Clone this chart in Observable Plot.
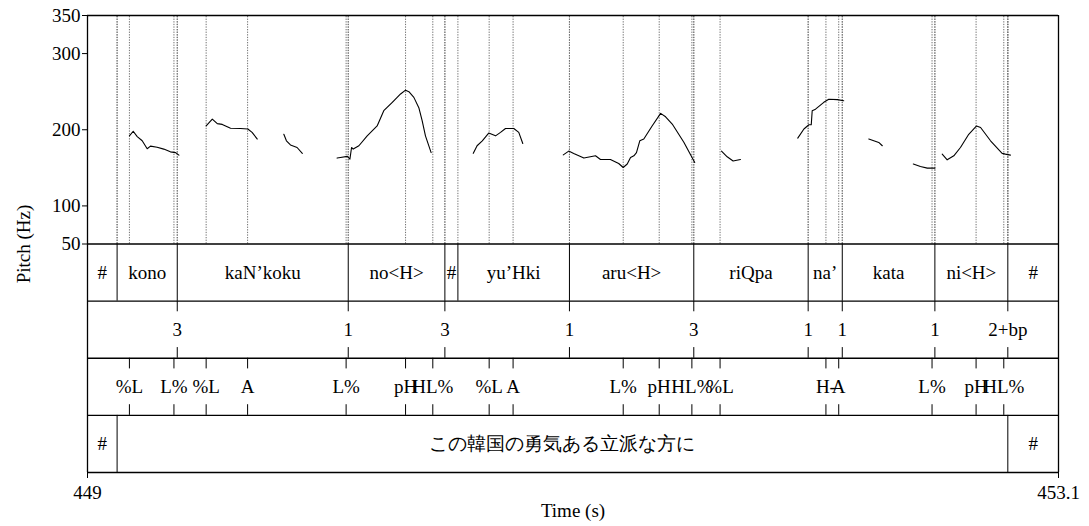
<!DOCTYPE html>
<html><head><meta charset="utf-8">
<script src="https://cdn.jsdelivr.net/npm/d3@7"></script>
<script src="https://cdn.jsdelivr.net/npm/@observablehq/plot@0.6"></script>
<style>body{margin:0;background:#fff}</style>
</head><body><div id="chart"></div>
<script>
// ---- data ----
const xDomain = [449, 453.1];
const xTicks = [449, 453.1];
const xTickLabels = ["449", "453.1"];
const yTicks = [50, 100, 200, 300, 350];

const words = ["#", "kono", "kaN\u2019koku", "no<H>", "#", "yu\u2019Hki", "aru<H>", "riQpa", "na\u2019", "kata", "ni<H>", "#"];
const wordBounds = [449, 449.125, 449.379, 450.101, 450.509, 450.564, 451.035, 451.560, 452.043, 452.187, 452.578, 452.886, 453.1];

const breakTimes = [449.379, 450.101, 450.509, 451.035, 451.560, 452.043, 452.187, 452.578, 452.886];
const breakLabels = ["3", "1", "3", "1", "3", "1", "1", "1", "2+bp"];

const toneTimes = [449.177, 449.365, 449.501, 449.676, 450.092, 450.343, 450.458, 450.696, 450.797, 451.262, 451.414, 451.552, 451.671, 452.118, 452.172, 452.566, 452.752, 452.869];
const toneLabels = ["%L", "L%", "%L", "A", "L%", "pH", "HL%", "%L", "A", "L%", "pH", "HL%", "%L", "H-", "A", "L%", "pH", "HL%"];

const sentences = ["#", "この韓国の勇気ある立派な方に", "#"];
const sentBounds = [449, 449.125, 452.886, 453.1];

const pitchSegment = [
  1,1,1,1,1,1,1,1,1,1,1,
  2,2,2,2,2,2,2,2,2,
  3,3,3,3,3,
  4,4,4,4,4,4,4,4,4,4,4,4,4,4,4,4,4,4,4,
  5,5,5,5,5,5,5,5,5,5,
  6,6,6,6,6,6,6,6,6,6,6,6,6,6,6,6,6,6,6,6,6,
  7,7,7,7,
  8,8,8,8,8,8,8,8,8,8,
  9,9,9,9,
  10,10,10,10,
  11,11,11,11,11,11,11,11,11,11,11
];
const pitchTime = [
  449.177, 449.193, 449.210, 449.231, 449.252, 449.266, 449.294, 449.322, 449.350, 449.372, 449.386,
  449.501, 449.527, 449.548, 449.569, 449.604, 449.646, 449.677, 449.695, 449.717,
  449.829, 449.840, 449.857, 449.885, 449.907,
  450.054, 450.068, 450.097, 450.108, 450.115, 450.122, 450.146, 450.181, 450.223, 450.251, 450.287, 450.322, 450.343, 450.357, 450.378, 450.399, 450.413, 450.427, 450.451,
  450.629, 450.645, 450.667, 450.694, 450.723, 450.744, 450.765, 450.800, 450.821, 450.838,
  451.009, 451.032, 451.053, 451.096, 451.145, 451.166, 451.208, 451.243, 451.262, 451.279, 451.293, 451.307, 451.318, 451.332, 451.349, 451.384, 451.420, 451.441, 451.469, 451.518, 451.564,
  451.677, 451.701, 451.726, 451.757,
  451.999, 452.025, 452.046, 452.056, 452.060, 452.074, 452.109, 452.130, 452.166, 452.193,
  452.299, 452.320, 452.341, 452.356,
  452.487, 452.517, 452.546, 452.578,
  452.609, 452.630, 452.658, 452.686, 452.721, 452.754, 452.771, 452.813, 452.862, 452.876, 452.897
];
const pitchHz = [
  192, 198, 191, 185.5, 175, 178.5, 177, 174.6, 171, 170, 166.7,
  205, 214, 208, 207, 202, 201.7, 201, 196.5, 187.8,
  194, 185.5, 180, 176.7, 169,
  162.8, 163.6, 165, 161.5, 176.7, 174.6, 179, 192, 205, 225, 236, 247, 252, 250, 242.5, 229, 212, 192, 170,
  169, 179, 185.5, 195.6, 192, 196.5, 201.7, 201.7, 196.5, 182,
  167, 172, 168.8, 162.8, 165.8, 161, 161, 155.7, 150.4, 155, 163.6, 165.8, 170, 185.5, 187.8, 205, 221.5, 217, 207.5, 183.6, 157,
  172, 164.5, 159, 161,
  189, 201, 206.6, 206.6, 225, 227, 236, 240, 239.5, 238,
  187.8, 185.5, 183.3, 179,
  155, 151.7, 149.6, 149.6,
  168, 160.5, 165.8, 176.7, 194, 205, 203, 185.5, 169, 168, 166.7
];

// ---- layout (tier bands in y-scale units) ----
const Y_TOP = 350, Y_PITCH_BOTTOM = 50, TIER = 75;
const tierTop = i => Y_PITCH_BOTTOM - i * TIER;
const tierMid = i => Y_PITCH_BOTTOM - (i + 0.5) * TIER;
const TICK = 14;
const FONT = 19;

const pitch = pitchTime.map((t, i) => ({t, f: pitchHz[i], seg: pitchSegment[i]}));
const intervals = (labels, bounds) => labels.map((l, i) => ({label: l, x1: bounds[i], x2: bounds[i + 1], mid: (bounds[i] + bounds[i + 1]) / 2}));
const wordInt = intervals(words, wordBounds);
const sentInt = intervals(sentences, sentBounds);
const breaks = breakTimes.map((t, i) => ({t, label: breakLabels[i]}));
const tones = toneTimes.map((t, i) => ({t, label: toneLabels[i]}));

const inner = b => b.slice(1, -1);
const guideTimes = [...inner(wordBounds), ...breakTimes, ...toneTimes, ...inner(sentBounds)];
const yMid = (Y_TOP + tierTop(4)) / 2;

const chart = Plot.plot({
  width: 1089, height: 526,
  marginLeft: 87, marginRight: 31, marginTop: 15, marginBottom: 54,
  style: {fontFamily: "'Liberation Serif', 'Times New Roman', serif", fontSize: FONT + "px", color: "black", background: "white"},
  x: {domain: xDomain},
  y: {domain: [tierTop(4), Y_TOP]},
  marks: [
    Plot.ruleX(guideTimes, {y1: Y_PITCH_BOTTOM, y2: Y_TOP, stroke: "#707070", strokeWidth: 1, strokeDasharray: "1.3,1.3"}),
    Plot.line(pitch, {x: "t", y: "f", z: "seg", stroke: "black", strokeWidth: 1.1}),
    Plot.ruleY([Y_TOP, tierTop(0), tierTop(1), tierTop(2), tierTop(3), tierTop(4)], {x1: xDomain[0], x2: xDomain[1], stroke: "black", strokeWidth: 1.3}),
    Plot.ruleX(xDomain, {y1: tierTop(4), y2: Y_TOP, stroke: "black", strokeWidth: 1.3}),
    // word tier
    Plot.ruleX(inner(wordBounds), {y1: tierTop(1), y2: tierTop(0), stroke: "black", strokeWidth: 1}),
    Plot.text(wordInt, {x: "mid", y: tierMid(0), text: "label", textAnchor: "middle", lineAnchor: "middle"}),
    // break tier
    Plot.ruleX(breaks, {x: "t", y1: tierTop(1) - TICK, y2: tierTop(1), stroke: "black"}),
    Plot.ruleX(breaks, {x: "t", y1: tierTop(2), y2: tierTop(2) + TICK, stroke: "black"}),
    Plot.text(breaks, {x: "t", y: tierMid(1), text: "label", textAnchor: "middle", lineAnchor: "middle"}),
    // tone tier
    Plot.ruleX(tones, {x: "t", y1: tierTop(2) - TICK, y2: tierTop(2), stroke: "black"}),
    Plot.ruleX(tones, {x: "t", y1: tierTop(3), y2: tierTop(3) + TICK, stroke: "black"}),
    Plot.text(tones, {x: "t", y: tierMid(2), text: "label", textAnchor: "middle", lineAnchor: "middle"}),
    // sentence tier
    Plot.ruleX(inner(sentBounds), {y1: tierTop(4), y2: tierTop(3), stroke: "black", strokeWidth: 1}),
    Plot.text(sentInt, {x: "mid", y: tierMid(3), text: "label", textAnchor: "middle", lineAnchor: "middle",
      fontFamily: d => d.label === "#" ? "'Liberation Serif', serif" : "'Noto Sans CJK JP', sans-serif",
      fontSize: FONT}),
    // axes
    Plot.axisY({ticks: yTicks, tickSize: 5, tickPadding: 2, label: null}),
    Plot.text(["Pitch (Hz)"], {x: xDomain[0], y: yMid, dx: -64, rotate: -90, textAnchor: "middle", lineAnchor: "middle"}),
    Plot.axisX({ticks: xTicks, tickFormat: d => xTickLabels[xTicks.indexOf(d)], tickSize: 6, tickPadding: 7,
      label: "Time (s)", labelAnchor: "center", labelArrow: "none", labelOffset: 44})
  ]
});
document.getElementById("chart").appendChild(chart);
</script>
</body></html>
